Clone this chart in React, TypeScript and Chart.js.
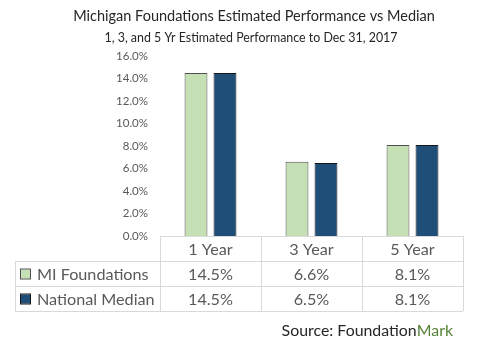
import React, { useEffect, useRef } from "react";
import { Chart, registerables } from "chart.js";

Chart.register(...registerables);

const categories = ["1 Year", "3 Year", "5 Year"];
const seriesNames = ["MI Foundations", "National Median"];
const miFoundations = [14.5, 6.6, 8.1];
const nationalMedian = [14.5, 6.5, 8.1];
const titleText = "Michigan Foundations Estimated Performance vs Median";
const subtitleText = "1, 3, and 5 Yr Estimated Performance to Dec 31, 2017";
const sourcePrefix = "Source: Foundation";
const sourceSuffix = "Mark";

const FONT = "Lato, 'Open Sans', sans-serif";
const GREEN = "#C5E0B4";
const BLUE = "#1F4E79";
const GREEN_BORDER = "#505050";
const BLUE_BORDER = "#151515";

const tablePlugin = {
  id: "dataTable",
  afterDraw(chart: any) {
    const ctx = chart.ctx;
    const area = chart.chartArea;
    const xs = chart.scales.x;
    const rowH = 25;
    const legendLeft = 15;
    const top = area.bottom;
    const edges: number[] = [area.left];
    for (let i = 0; i < categories.length - 1; i++) {
      edges.push((xs.getPixelForValue(i) + xs.getPixelForValue(i + 1)) / 2);
    }
    edges.push(area.right);
    ctx.save();
    // Title + subtitle
    ctx.fillStyle = "#262626";
    ctx.textAlign = "center";
    ctx.textBaseline = "middle";
    ctx.font = `14.5px ${FONT}`;
    ctx.fillText(titleText, 254, 16);
    ctx.font = `12.4px ${FONT}`;
    ctx.fillText(subtitleText, 251, 38);

    // grid lines
    ctx.strokeStyle = "#D9D9D9";
    ctx.lineWidth = 1;
    ctx.beginPath();
    ctx.moveTo(area.left, top + 0.5);
    ctx.lineTo(area.right, top + 0.5);
    for (let r = 1; r <= 3; r++) {
      const y = Math.round(top + r * rowH) + 0.5;
      ctx.moveTo(legendLeft, y);
      ctx.lineTo(area.right, y);
    }
    edges.forEach((x) => {
      const xx = Math.round(x) + 0.5;
      ctx.moveTo(xx, top);
      ctx.lineTo(xx, top + 3 * rowH);
    });
    ctx.moveTo(legendLeft + 0.5, top + rowH);
    ctx.lineTo(legendLeft + 0.5, top + 3 * rowH);
    ctx.stroke();

    // header
    ctx.fillStyle = "#595959";
    ctx.font = `16.2px ${FONT}`;
    ctx.textAlign = "center";
    categories.forEach((c, i) => {
      ctx.fillText(c, (edges[i] + edges[i + 1]) / 2, top + rowH / 2 + 1);
    });
    const rows = [miFoundations, nationalMedian];
    const fills = [GREEN, BLUE];
    const borders = [GREEN_BORDER, BLUE_BORDER];
    rows.forEach((vals, r) => {
      const cy = top + rowH * (r + 1) + rowH / 2 + 1;
      vals.forEach((v, i) => {
        ctx.textAlign = "center";
        ctx.fillText(v.toFixed(1) + "%", (edges[i] + edges[i + 1]) / 2, cy);
      });
      ctx.fillStyle = fills[r];
      ctx.fillRect(21, cy - 5, 9, 9);
      ctx.strokeStyle = borders[r];
      ctx.strokeRect(20.5, cy - 5.5, 10, 10);
      ctx.fillStyle = "#595959";
      ctx.textAlign = "left";
      ctx.fillText(seriesNames[r], 37, cy);
    });

    // source
    ctx.font = `15.9px ${FONT}`;
    const w2 = ctx.measureText(sourceSuffix).width;
    const right = 453;
    ctx.textAlign = "right";
    ctx.fillStyle = "#548235";
    ctx.fillText(sourceSuffix, right, 331);
    ctx.fillStyle = "#262626";
    ctx.fillText(sourcePrefix, right - w2, 331);
    ctx.restore();
  },
};

export default function App() {
  const ref = useRef<HTMLCanvasElement>(null);
  useEffect(() => {
    const chart = new Chart(ref.current!, {
      type: "bar",
      data: {
        labels: categories,
        datasets: [
          {
            label: seriesNames[0],
            data: miFoundations,
            backgroundColor: GREEN,
            borderColor: GREEN_BORDER,
            borderWidth: 1,
          },
          {
            label: seriesNames[1],
            data: nationalMedian,
            backgroundColor: BLUE,
            borderColor: BLUE_BORDER,
            borderWidth: 1,
          },
        ],
      },
      options: {
        responsive: false,
        animation: false,
        events: [],
        layout: { padding: { top: 56, bottom: 116, left: 0, right: 35 } },
        datasets: { bar: { categoryPercentage: 0.574, barPercentage: 0.79 } } as any,
        plugins: {
          legend: { display: false },
          title: { display: false },
          tooltip: { enabled: false },
        },
        scales: {
          x: { display: false },
          y: {
            min: 0,
            max: 16,
            afterFit: (s: any) => {
              s.width = 160;
            },
            grid: { display: false, drawTicks: false },
            border: { display: false },
            ticks: {
              stepSize: 2,
              padding: 12,
              color: "#595959",
              font: { family: FONT, size: 11.5 },
              callback: (v: any) => Number(v).toFixed(1) + "%",
            },
          },
        },
      },
      plugins: [tablePlugin],
    });
    return () => chart.destroy();
  }, []);
  return (
    <div style={{ position: "absolute", left: 0, top: 0, width: 498, height: 352, background: "#fff" }}>
      <canvas ref={ref} width={498} height={352} style={{ display: "block" }} />
    </div>
  );
}
